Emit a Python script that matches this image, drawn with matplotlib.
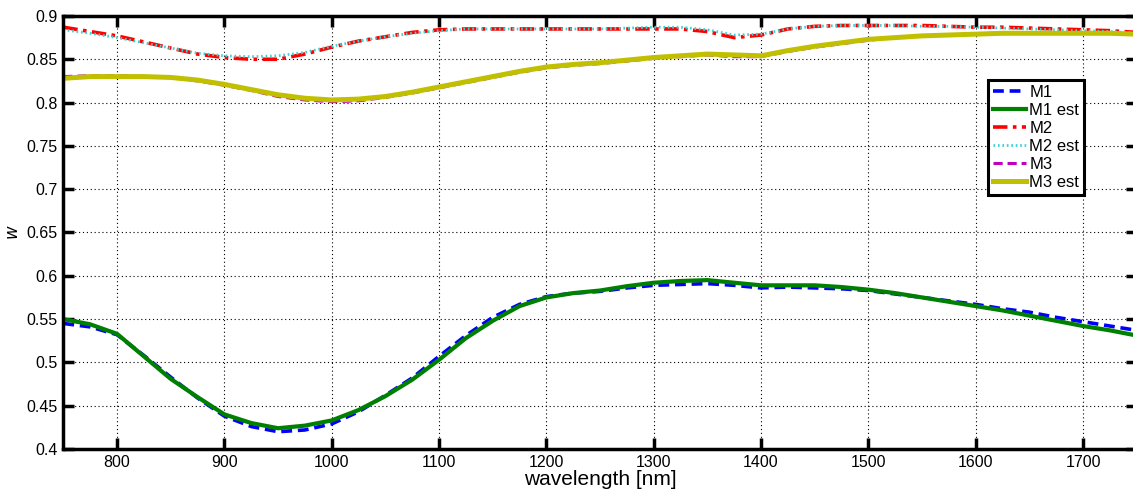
import matplotlib
matplotlib.use("Agg")
import matplotlib.pyplot as plt

plt.rcParams["font.family"] = ["Liberation Sans", "DejaVu Sans"]

# wavelength grid [nm]
wavelength = list(range(750, 1751, 25))

m1 = [0.545, 0.541, 0.532, 0.508, 0.483, 0.459, 0.438, 0.426, 0.420, 0.422,
      0.429, 0.443, 0.462, 0.482, 0.507, 0.531, 0.552, 0.567, 0.576, 0.580,
      0.582, 0.586, 0.589, 0.590, 0.591, 0.589, 0.586, 0.587, 0.586, 0.585,
      0.583, 0.579, 0.575, 0.571, 0.567, 0.562, 0.558, 0.552, 0.547, 0.542,
      0.537]
m1_est = [0.550, 0.544, 0.533, 0.507, 0.481, 0.460, 0.440, 0.430, 0.424, 0.427,
          0.433, 0.445, 0.461, 0.480, 0.503, 0.528, 0.548, 0.565, 0.575, 0.580,
          0.583, 0.588, 0.592, 0.594, 0.595, 0.592, 0.589, 0.589, 0.589, 0.587,
          0.584, 0.580, 0.575, 0.570, 0.565, 0.560, 0.554, 0.548, 0.542, 0.537,
          0.531]
m2 = [0.887, 0.882, 0.877, 0.870, 0.863, 0.856, 0.852, 0.850, 0.850, 0.856,
      0.864, 0.871, 0.876, 0.881, 0.884, 0.885, 0.885, 0.885, 0.885, 0.885,
      0.885, 0.885, 0.885, 0.885, 0.882, 0.875, 0.878, 0.885, 0.888, 0.889,
      0.889, 0.889, 0.889, 0.888, 0.887, 0.887, 0.886, 0.885, 0.884, 0.883,
      0.881]
m2_est = [0.884, 0.880, 0.875, 0.869, 0.863, 0.857, 0.854, 0.853, 0.854, 0.858,
          0.865, 0.871, 0.876, 0.880, 0.883, 0.885, 0.885, 0.885, 0.885, 0.885,
          0.885, 0.886, 0.887, 0.887, 0.884, 0.878, 0.879, 0.885, 0.888, 0.889,
          0.889, 0.889, 0.888, 0.888, 0.887, 0.886, 0.885, 0.884, 0.883, 0.882,
          0.880]
m3 = [0.830, 0.831, 0.831, 0.830, 0.829, 0.825, 0.820, 0.814, 0.807, 0.803,
      0.801, 0.802, 0.806, 0.811, 0.817, 0.823, 0.829, 0.835, 0.840, 0.843,
      0.845, 0.848, 0.851, 0.853, 0.855, 0.853, 0.853, 0.859, 0.864, 0.868,
      0.872, 0.875, 0.877, 0.878, 0.879, 0.880, 0.880, 0.880, 0.880, 0.880,
      0.879]
m3_est = [0.828, 0.830, 0.830, 0.830, 0.829, 0.826, 0.821, 0.815, 0.809, 0.805,
          0.803, 0.804, 0.807, 0.812, 0.818, 0.824, 0.830, 0.836, 0.841, 0.844,
          0.846, 0.849, 0.852, 0.854, 0.856, 0.855, 0.854, 0.860, 0.865, 0.869,
          0.873, 0.875, 0.877, 0.878, 0.879, 0.880, 0.880, 0.880, 0.880, 0.880,
          0.879]

fig = plt.figure(figsize=(11.33, 4.91), dpi=100)
ax = fig.add_axes([0.0559, 0.0855, 0.9474, 0.882])

ax.plot(wavelength, m1, color="#0000ff", ls=(0, (3, 1.6)), lw=2.6, label="M1")
ax.plot(wavelength, m1_est, color="#008000", ls="-", lw=3.0, label="M1 est")
ax.plot(wavelength, m2, color="#ff0000", ls=(0, (4, 1.5, 1, 1.5)), lw=2.6, label="M2")
ax.plot(wavelength, m2_est, color="#40d0d0", ls=(0, (0.6, 1.0)), lw=2.0, label="M2 est")
ax.plot(wavelength, m3, color="#c000c0", ls=(0, (3, 1.6)), lw=2.2, label="M3")
ax.plot(wavelength, m3_est, color="#c0c000", ls="-", lw=3.6, label="M3 est")

ax.set_xlim(750, 1750)
ax.set_ylim(0.4, 0.9)
ax.set_xticks(range(800, 1701, 100))
ax.set_yticks([0.4, 0.45, 0.5, 0.55, 0.6, 0.65, 0.7, 0.75, 0.8, 0.85, 0.9])
ax.set_yticklabels(["0.4", "0.45", "0.5", "0.55", "0.6", "0.65", "0.7",
                    "0.75", "0.8", "0.85", "0.9"])
ax.grid(True, color="black", ls=(0, (1, 2.5)), lw=0.8)
ax.tick_params(direction="in", length=8, width=2.5, labelsize=11.5,
               top=True, right=True, pad=4)
for sp in ax.spines.values():
    sp.set_linewidth(2.5)

ax.set_xlabel("wavelength [nm]", fontsize=15, labelpad=0)
ax.set_ylabel("$w$", fontsize=12, labelpad=4)

leg = ax.legend(loc="upper left", bbox_to_anchor=(0.861, 0.853), fontsize=12,
                fancybox=False, framealpha=1, edgecolor="black",
                handlelength=2.0, handletextpad=0.2, borderpad=0.3,
                labelspacing=0.18, borderaxespad=0)
leg.get_frame().set_linewidth(2.2)

fig.savefig("out.png", dpi=100)
